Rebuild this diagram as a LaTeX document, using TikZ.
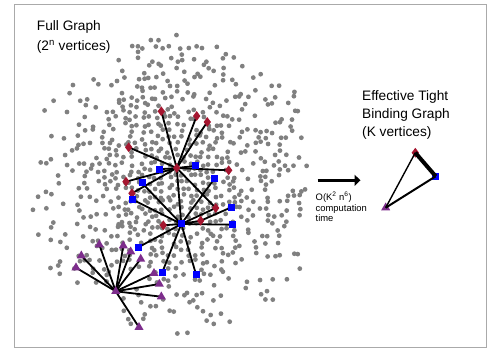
\documentclass[tikz,border=0pt]{standalone}
\usepackage{fontspec}
\setmainfont{Liberation Sans}
\usetikzlibrary{arrows.meta,shapes.geometric,backgrounds}
\definecolor{dotgray}{RGB}{128,128,128}
\definecolor{framegray}{RGB}{170,170,170}
\definecolor{tbred}{RGB}{165,22,48}
\definecolor{tbblue}{RGB}{0,0,255}
\definecolor{tbpurple}{RGB}{125,45,140}

\begin{document}
\begin{tikzpicture}[x=1pt,y=-1pt,
  vtx/.style={fill=dotgray},
  rd/.style={diamond, fill=tbred, inner sep=0pt, minimum width=7.5pt,
             minimum height=10pt},
  bs/.style={rectangle, fill=tbblue, inner sep=0pt, minimum size=7pt},
  pt/.style={regular polygon, regular polygon sides=3, fill=tbpurple,
             inner sep=0pt, minimum size=10.5pt},
  lnk/.style={line width=1.8pt},
  ttl/.style={font=\fontsize{13.7}{20}\selectfont, align=left, inner sep=0pt},
  note/.style={font=\fontsize{9.4}{10.4}\selectfont, align=left, inner sep=0pt}]
\useasboundingbox (0,0) rectangle (491,361);
\draw[framegray, line width=1pt] (14,5) rectangle (486,347);
% ---- titles ----
\node[ttl, anchor=north west] (full) at (36.7,20.8)
  {Full Graph\\(2\textsuperscript{n} vertices)};
\node[ttl, anchor=north west, font=\fontsize{13.7}{18}\selectfont] (eff) at (362,90.8)
  {Effective Tight\\Binding Graph\\(K vertices)};
% ---- red hub and its diamonds ----
\node[rd] (rA)  at (176.7,168) {};
\node[rd] (r1)  at (161.3,111.3) {};
\node[rd] (r2)  at (196.7,116) {};
\node[rd] (r3)  at (207.3,122) {};
\node[rd] (r4)  at (128.7,147.3) {};
\node[rd] (r5)  at (228.7,170.3) {};
\node[rd] (r6)  at (126,181.7) {};
\node[rd] (r7)  at (132,193.3) {};
\node[rd] (r8)  at (215.7,208) {};
\node[rd] (r9)  at (200.7,220.7) {};
\node[rd] (r10) at (163.3,225.3) {};
% ---- blue hub and its squares ----
\node[bs] (bA)  at (181.3,224) {};
\node[bs] (b1)  at (159,169.3) {};
\node[bs] (b2)  at (195,166) {};
\node[bs] (b3)  at (214.7,178.3) {};
\node[bs] (b4)  at (142,183) {};
\node[bs] (b5)  at (132.7,199.7) {};
\node[bs] (b6)  at (231.3,207.3) {};
\node[bs] (b7)  at (232.7,224.7) {};
\node[bs] (b8)  at (138.3,247.3) {};
\node[bs] (b9)  at (162.3,272.3) {};
\node[bs] (b10) at (196,274.3) {};
% ---- purple hub and its triangles ----
\node[pt] (pA)  at (115.7,291.3) {};
\node[pt] (p1)  at (76,267.7) {};
\node[pt] (p2)  at (81.3,255.7) {};
\node[pt] (p3)  at (99.3,244.7) {};
\node[pt] (p4)  at (123.3,245.7) {};
\node[pt] (p5)  at (130.7,251.7) {};
\node[pt] (p6)  at (140.7,259) {};
\node[pt] (p7)  at (154,273.3) {};
\node[pt] (p8)  at (159.3,284) {};
\node[pt] (p9)  at (161.3,296.7) {};
\node[pt] (p10) at (139,327.3) {};
% ---- reduced graph ----
\node[rd] (tD) at (415.3,152.7) {};
\node[bs] (tS) at (435.7,176.3) {};
\node[pt] (tT) at (385.7,207.7) {};
\draw[line width=4pt] (tD.center) -- (tS.center);
\draw[line width=1.4pt] (tD.center) -- (tT.center);
\draw[line width=2pt] (tS.center) -- (tT.center);
% ---- reduction arrow ----
\coordinate (arrS) at (317.5,180.3);
\coordinate (arrE) at (360.5,180.3);
\draw[line width=3.2pt, -{Triangle[length=6pt,width=11pt]}] (arrS) -- (arrE);
\node[note, anchor=north west] (cost) at (315.5,192)
  {O(K\textsuperscript{2} n\textsuperscript{6})\\computation\\time};
% ---- background: full graph cloud and links ----
\begin{scope}[on background layer]
\pgfmathsetseed{42}
\foreach \gx in {-156,-149.5,...,131}{
  \foreach \gy in {-156,-149.5,...,156}{
    \pgfmathsetmacro{\px}{\gx+2.4*rand}
    \pgfmathsetmacro{\py}{\gy+2.4*rand}
    \pgfmathtruncatemacro{\keep}{(rnd < exp(-((\px/80)^2+(\py/80)^2)/2))
                                 && ((\px/10)^2+(\py/10)^2 < 230)
                                 && !((\px < -56) && (\py < -125))}
    \ifnum\keep=1 \fill[vtx] (176+\px,183+\py) circle (2.4pt); \fi
  }
}
\foreach \a/\b in {rA/r1, rA/r2, rA/r3, rA/r4, rA/r5, rA/r6, rA/r7, rA/b1,
                   rA/b2, rA/r8, rA/bA, bA/b3, bA/b4, bA/b5, bA/r8, bA/r9,
                   bA/r10, bA/b7, bA/b8, bA/b9, bA/b10, r9/b6}
  \draw[lnk] (\a.center) -- (\b.center);
\foreach \k in {1,...,10}
  \draw[lnk] (pA.center) -- (p\k.center);
\end{scope}
\end{tikzpicture}
\end{document}
